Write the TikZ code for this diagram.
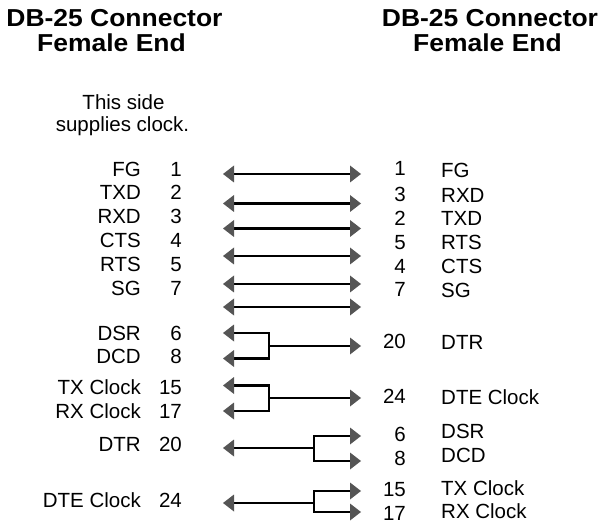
\documentclass[tikz,border=0pt]{standalone}
\usepackage{fontspec}
\setmainfont{Liberation Sans}
\newfontfamily\titlefont[FakeStretch=1.08]{Liberation Sans}
\usepackage{xcolor}
\usetikzlibrary{calc,arrows.meta,positioning}
\definecolor{tipgray}{HTML}{555555}

\begin{document}
\begin{tikzpicture}[x=1pt, y=-1pt, >={Triangle[length=11pt, width=17pt, line width=0pt, color=tipgray]},
    title/.style={anchor=base, inner sep=0pt, font=\titlefont\bfseries\fontsize{24.5}{28}\selectfont},
    txt/.style={inner sep=0pt, font=\fontsize{20.5}{24}\selectfont},
    lname/.style={txt, anchor=base east},
    lpin/.style={txt, anchor=base east},
    rpin/.style={txt, anchor=base east},
    rname/.style={txt, anchor=base west},
    wire/.style={line width=2.8pt, line join=miter}]
    \def\LeftTip{223}
    \def\RightTip{361}
    \def\ForkL{269}
    \def\ForkR{314}

    \useasboundingbox (0,0) rectangle (599,526);

    \node[title] (ltitle) at (114.5,27) {DB-25 Connector};
    \node[title] (lend) at (111.5,52) {Female End};
    \node[title] (rtitle) at (490,27) {DB-25 Connector};
    \node[title] (rend) at (487.5,52) {Female End};
    \node[txt, anchor=base] (clock1) at (123.5,110) {This side};
    \node[txt, anchor=base] (clock2) at (122.5,132) {supplies clock.};

    % left connector pins
    \foreach \n/\name/\pin/\y in {1/FG/1/177, 2/TXD/2/200, 3/RXD/3/224, 4/CTS/4/248, 5/RTS/5/272, 6/SG/7/295,
        7/DSR/6/340, 8/DCD/8/363.5, 9/TX Clock/15/394.5, 10/RX Clock/17/418, 11/DTR/20/451, 12/DTE Clock/24/507} {
        \node[lname] (ln\n) at (141,\y) {\name};
        \node[lpin] (lp\n) at (182,\y) {\pin};
    }

    % right connector pins
    \foreach \n/\name/\pin/\y/\yy in {1/FG/1/176/177.5, 2/RXD/3/202/203, 3/TXD/2/226/226, 4/RTS/5/250/250, 5/CTS/4/274/274, 6/SG/7/297/298,
        7/DTR/20/348/349, 8/DTE Clock/24/403/404, 9/DSR/6/441/438, 10/DCD/8/465/462, 11/TX Clock/15/496/495, 12/RX Clock/17/520/518} {
        \node[rpin] (rp\n) at (406,\y) {\pin};
        \node[rname] (rn\n) at (441,\yy) {\name};
    }

    % straight wires
    \foreach \n/\y in {1/174, 2/203.5, 3/228.5, 4/256, 5/284, 6/307} {
        \coordinate (wl\n) at (\LeftTip,\y);
        \coordinate (wr\n) at (\RightTip,\y);
        \draw[wire, <->] (wl\n) -- (wr\n);
    }

    % DSR + DCD -> DTR
    \coordinate (dsr) at (\LeftTip,333);
    \coordinate (dcd) at (\LeftTip,358.5);
    \coordinate (jdtr) at (\ForkL,346);
    \coordinate (dtr) at (\RightTip,346);
    \draw[wire, <->] (dsr) -| (jdtr) |- (dcd);
    \draw[wire, ->] (jdtr) -- (dtr);

    % TX Clock + RX Clock -> DTE Clock
    \coordinate (txc) at (\LeftTip,385.5);
    \coordinate (rxc) at (\LeftTip,411);
    \coordinate (jdte) at (\ForkL,398);
    \coordinate (dte) at (\RightTip,398);
    \draw[wire, <->] (txc) -| (jdte) |- (rxc);
    \draw[wire, ->] (jdte) -- (dte);

    % DTR -> DSR + DCD
    \coordinate (dtrl) at (\LeftTip,448);
    \coordinate (jdsr) at (\ForkR,448);
    \coordinate (dsrr) at (\RightTip,436);
    \coordinate (dcdr) at (\RightTip,461);
    \draw[wire, <->] (dsrr) -| (jdsr) |- (dcdr);
    \draw[wire, ->] (jdsr) -- (dtrl);

    % DTE Clock -> TX Clock + RX Clock
    \coordinate (dtel) at (\LeftTip,503);
    \coordinate (jclk) at (\ForkR,503);
    \coordinate (txr) at (\RightTip,491);
    \coordinate (rxr) at (\RightTip,512);
    \draw[wire, <->] (txr) -| (jclk) |- (rxr);
    \draw[wire, ->] (jclk) -- (dtel);
\end{tikzpicture}
\end{document}
